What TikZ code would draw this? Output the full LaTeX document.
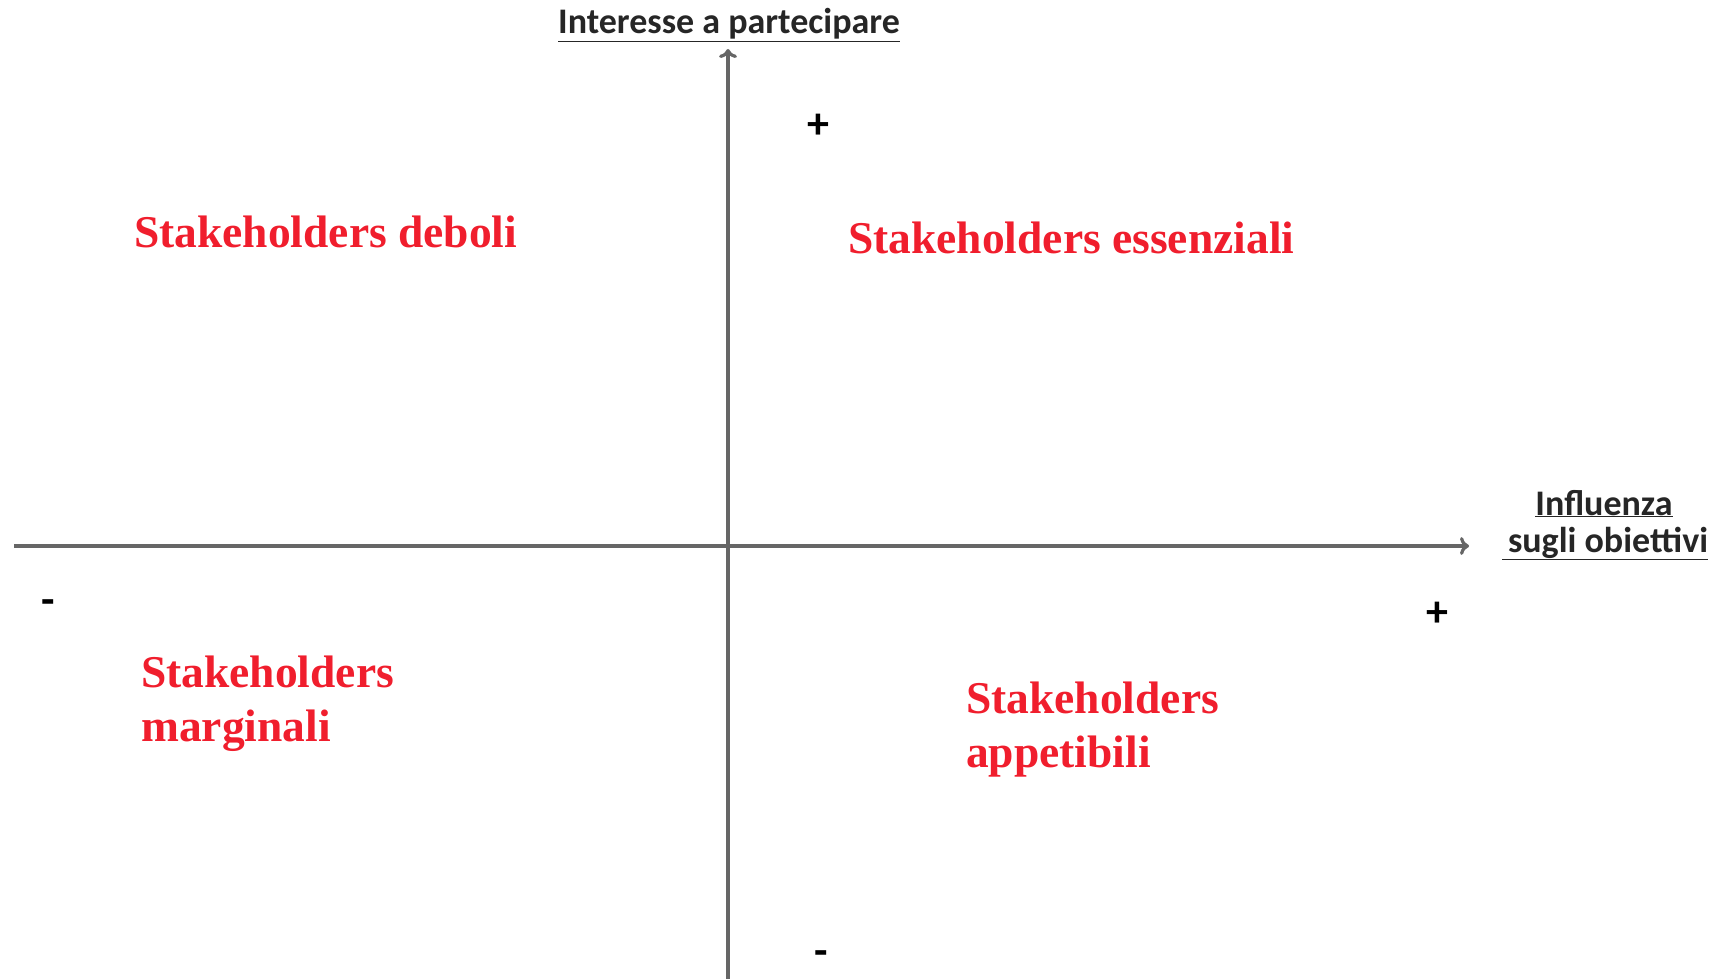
\documentclass[tikz,border=0pt]{standalone}
\usepackage{fontspec}
\setmainfont{Liberation Serif}
\newfontfamily\axisfont{Carlito}
\usetikzlibrary{positioning, arrows.meta}

\definecolor{quadred}{RGB}{240,30,45}

\begin{document}
\begin{tikzpicture}[x=1pt, y=-1pt]
  \useasboundingbox (0, 0) rectangle (1712, 979);
  %
  \tikzset{
    axisline/.style={draw=black!60, line width=3.2pt, -{To[length=9pt, width=18pt]}},
    axislabel/.style={font=\axisfont\bfseries\fontsize{36}{40}\selectfont, text=black!85, inner sep=0pt, anchor=base},
    quadrant/.style={font=\bfseries\fontsize{45.5}{54}\selectfont, text=quadred, align=left, inner sep=0pt, anchor=base west},
    signmark/.style={font=\axisfont\bfseries\fontsize{44}{44}\selectfont, inner sep=0pt}
  }
  %
  \coordinate (origin) at (728, 546);
  \coordinate (xstart) at (14, 546);
  \coordinate (xend) at (1469, 546);
  \coordinate (ystart) at (728, 979);
  \coordinate (yend) at (728, 49);
  %
  % axes
  \draw[axisline] (xstart) -- (xend);
  \draw[axisline] (ystart) -- (yend);
  %
  % axis labels
  \node[axislabel] at (729, 34) (ylabel) {\underline{Interesse a partecipare}};
  \node[axislabel] at (1604, 515) (xlabel) {\underline{Influenza}};
  \node[axislabel] at (1605, 552) (xlabel2) {\underline{\,sugli obiettivi}};
  %
  % signs
  \node[signmark] at (818, 126) (yplus) {+};
  \node[signmark] at (821, 958) (yminus) {-};
  \node[signmark] at (1437, 614) (xplus) {+};
  \node[signmark] at (48, 607) (xminus) {-};
  %
  % quadrants (base = last line)
  \node[quadrant] at (134, 247) (deboli) {Stakeholders deboli};
  \node[quadrant] at (848, 253) (essenziali) {Stakeholders essenziali};
  \node[quadrant] at (141, 741) (marginali) {Stakeholders\\marginali};
  \node[quadrant] at (966, 767) (appetibili) {Stakeholders\\appetibili};

\end{tikzpicture}
\end{document}
